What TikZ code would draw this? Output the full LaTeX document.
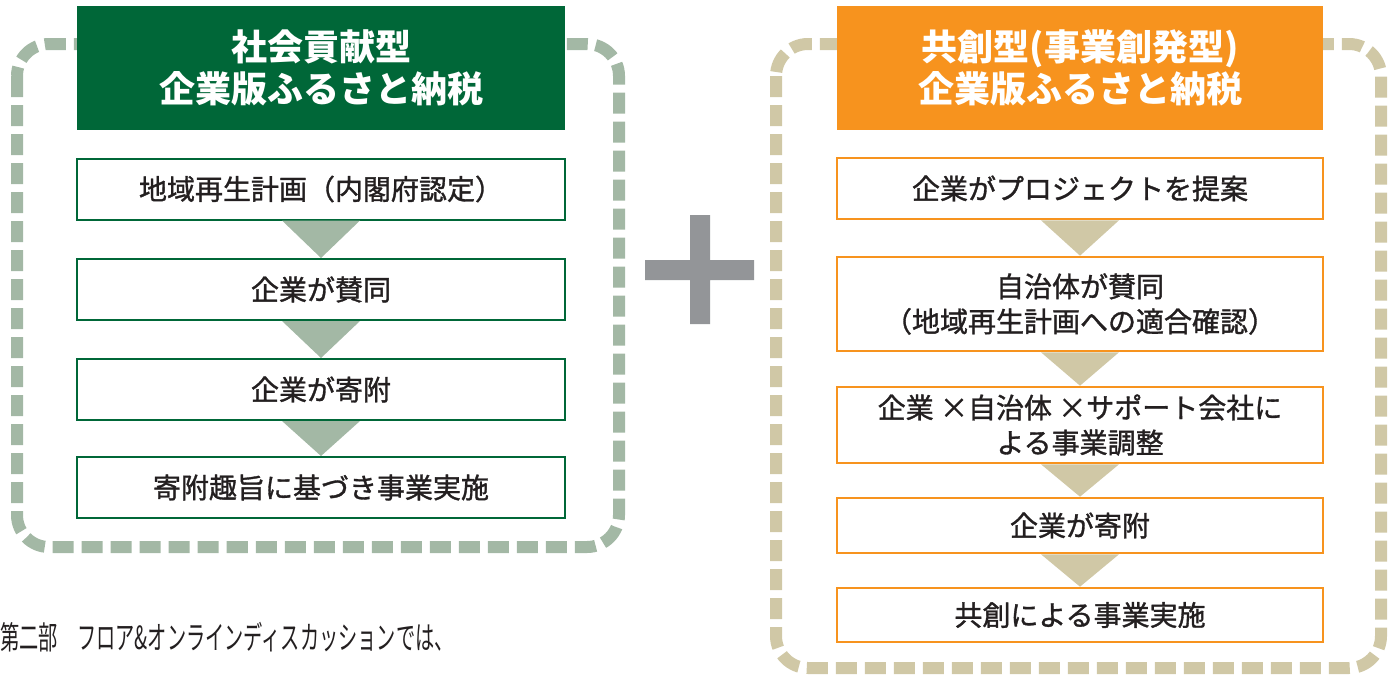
\documentclass[tikz,border=0pt]{standalone}
\usepackage{fontspec}
\setmainfont{Noto Sans CJK JP}
\newfontfamily\jpmed{Noto Sans CJK JP}[FakeBold=1.2]
\definecolor{kgreen}{RGB}{0,103,56}
\definecolor{korange}{RGB}{247,147,30}
\definecolor{lframe}{RGB}{163,184,165}
\definecolor{rframe}{RGB}{208,200,166}
\definecolor{plusgrey}{RGB}{147,149,152}
\definecolor{ink}{RGB}{35,31,32}

\begin{document}
\begin{tikzpicture}[x=0.5pt, y=-0.5pt,
    head/.style={minimum height=62pt, inner sep=0pt, text=white, align=center,
      font=\fontsize{18}{21}\selectfont\bfseries},
    lstep/.style={draw=kgreen, line width=1pt, fill=white, minimum width=244pt,
      inner sep=0pt, text=ink, align=center, font=\jpmed\fontsize{14}{17.5}\selectfont},
    rstep/.style={draw=korange, line width=1.3pt, fill=white, minimum width=243pt,
      inner sep=0pt, text=ink, align=center, font=\jpmed\fontsize{14}{17.5}\selectfont},
    frame/.style={line width=6pt, dash pattern=on 10.5pt off 4pt, rounded corners=16pt}]
  \useasboundingbox (0,0) rectangle (1397,675);
  % dashed frames
  \draw[frame, draw=lframe] (17,44) rectangle (619,547);
  \draw[frame, draw=rframe] (776,44) rectangle (1381,668);
  % left column
  \node[head, fill=kgreen, minimum width=244pt] (lhead) at (321,68) {社会貢献型\\企業版ふるさと納税};
  \node[lstep, minimum height=30.5pt] (l1) at (321,189) {地域再生計画（内閣府認定）};
  \node[lstep, minimum height=30.5pt] (l2) at (321,289.5) {企業が賛同};
  \node[lstep, minimum height=30.5pt] (l3) at (321,389.5) {企業が寄附};
  \node[lstep, minimum height=30.5pt] (l4) at (321,487.5) {寄附趣旨に基づき事業実施};
  \foreach \a/\b in {l1/l2, l2/l3, l3/l4}
    \fill[lframe] ([xshift=-19.5pt]\a.south) -- ([xshift=19.5pt]\a.south) -- (\b.north) -- cycle;
  % plus
  \fill[plusgrey] (645,260) rectangle (754,280) (690,215) rectangle (710,324);
  % right column
  \node[head, fill=korange, minimum width=243pt] (rhead) at (1080,68) {共創型(事業創発型)\\企業版ふるさと納税};
  \node[rstep, minimum height=30.5pt] (r1) at (1080,188.5) {企業がプロジェクトを提案};
  \node[rstep, minimum height=47pt] (r2) at (1080,304) {自治体が賛同\\（地域再生計画への適合確認）};
  \node[rstep, minimum height=38pt] (r3) at (1080,425) {企業 ×自治体 ×サポート会社に\\よる事業調整};
  \node[rstep, minimum height=27.5pt] (r4) at (1080,525.5) {企業が寄附};
  \node[rstep, minimum height=27pt] (r5) at (1080,615) {共創による事業実施};
  \foreach \a/\b in {r1/r2, r2/r3, r3/r4, r4/r5}
    \fill[rframe] ([xshift=-19.5pt]\a.south) -- ([xshift=19.5pt]\a.south) -- (\b.north) -- cycle;
  % note below
  \node[anchor=west, inner sep=0pt, text=ink] (note) at (0,637)
    {\scalebox{0.6}[1]{\fontsize{16}{16}\selectfont 第二部　フロア\&オンラインディスカッションでは、}};
\end{tikzpicture}
\end{document}
